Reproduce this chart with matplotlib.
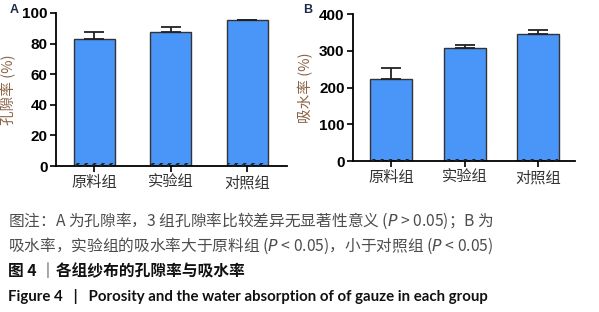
import matplotlib
matplotlib.use("Agg")
import matplotlib.pyplot as plt
import numpy as np

plt.rcParams['font.family'] = ['Noto Sans CJK SC', 'DejaVu Sans']
plt.rcParams['hatch.linewidth'] = 1.6

categories = ['原料组', '实验组', '对照组']
porosity = [83.0, 87.6, 95.6]
porosity_err = [4.8, 3.0, 0.0]
absorption = [224, 308, 346]
absorption_err = [30, 8, 11]
base_a = [2.0, 2.0, 2.0]
base_b = [6, 6, 6]

fig = plt.figure(figsize=(5.99, 3.12), dpi=100)
W, H = 599, 312

def ax_rect(x0, x1, ytop, ybot):
    return [x0 / W, 1 - ybot / H, (x1 - x0) / W, (ybot - ytop) / H]

blue = '#4a95f8'
edge = '#333333'
labcol = '#8a6548'

def panel(rect, vals, errs, base, ymax, step, ylabel, letter, lx, ly, xl, bw):
    ax = fig.add_axes(rect)
    x = np.arange(len(categories))
    ax.bar(x, vals, width=bw, color=blue, edgecolor=edge, linewidth=1.0, zorder=2)
    ax.errorbar(x, vals, yerr=[np.zeros(len(errs)), errs], fmt='none', ecolor='#222222',
                elinewidth=1.3, capsize=7.5, capthick=1.3, zorder=3)
    ax.bar(x, base, width=bw * 0.95, color='none', edgecolor='#222222', hatch='////', linewidth=0, zorder=3)
    ax.set_xlim(*xl)
    ax.set_ylim(0, ymax)
    ax.set_yticks(np.arange(0, ymax + 1, step))
    ax.set_xticks(x)
    ax.set_xticklabels(categories, fontsize=11, color='#333333')
    for t in ax.get_yticklabels():
        t.set_fontweight('bold')
        t.set_fontsize(11)
        t.set_family(['Liberation Sans', 'DejaVu Sans'])
    ax.spines['top'].set_visible(False)
    ax.spines['right'].set_visible(False)
    ax.spines['left'].set_linewidth(1.3)
    ax.spines['bottom'].set_linewidth(1.3)
    ax.tick_params(axis='both', width=1.3, length=4, color='#111111', pad=2)
    ax.set_ylabel(ylabel, fontsize=10.5, color=labcol, labelpad=4)
    fig.text(lx / W, 1 - ly / H, letter, fontsize=9, fontweight='bold', color='#1c2a48',
             family=['Liberation Sans', 'DejaVu Sans'], va='center', ha='left')
    return ax

panel(ax_rect(56, 287, 13, 166), porosity, porosity_err, base_a, 100, 20,
      '孔隙率 (%)', 'A', 10, 10, (-0.503, 2.517), 0.536)
panel(ax_rect(353, 575, 14, 161), absorption, absorption_err, base_b, 400, 100,
      '吸水率 (%)', 'B', 303, 10, (-0.517, 2.50), 0.57)

cap_col = '#4d4d4d'
fig.text(8 / W, 1 - 221 / H,
         '图注：A 为孔隙率，3 组孔隙率比较差异无显著性意义 ($P$ > 0.05)；B 为',
         fontsize=11.3, color=cap_col, va='center', ha='left')
fig.text(8 / W, 1 - 246 / H,
         '吸水率，实验组的吸水率大于原料组 ($P$ < 0.05)，小于对照组 ($P$ < 0.05)',
         fontsize=11.3, color=cap_col, va='center', ha='left')
fig.text(8 / W, 1 - 271 / H, '图 4 ｜各组纱布的孔隙率与吸水率',
         fontsize=11.3, color='#111111', fontweight='bold', va='center', ha='left')
fig.text(8 / W, 1 - 297 / H,
         'Figure 4   |   Porosity and the water absorption of of gauze in each group',
         fontsize=10.8, color='#111111', fontweight='bold', va='center', ha='left',
         family=['Lato', 'DejaVu Sans'])

fig.savefig('out.png', dpi=100)
